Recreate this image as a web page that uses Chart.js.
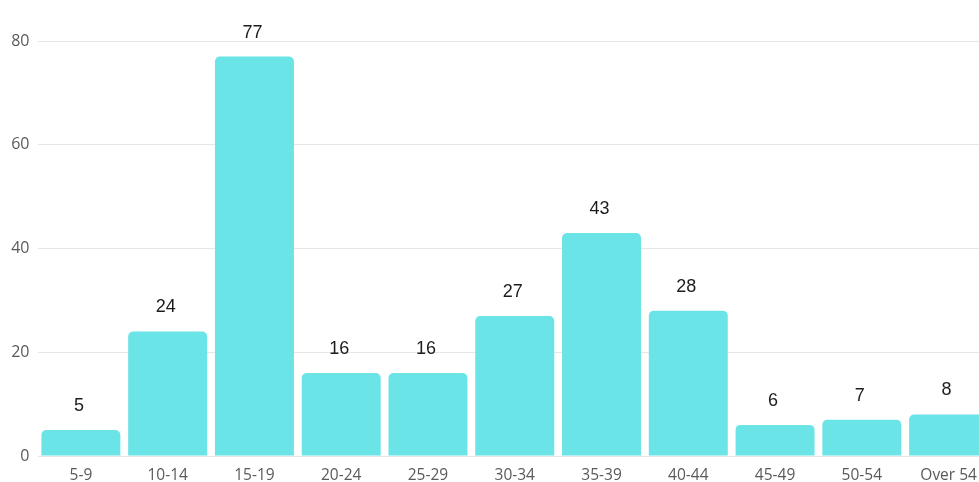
<!DOCTYPE html>
<html>
<head>
<meta charset="utf-8">
<script src="https://cdn.jsdelivr.net/npm/chart.js@4.4.1/dist/chart.umd.min.js"></script>
<style>
    html, body { margin: 0; padding: 0; background: #fff; overflow: hidden; }
    #wrap { width: 992px; height: 482px; }
</style>
</head>
<body>
<div id="wrap"><canvas id="ageChart" width="992" height="482"></canvas></div>
<script>
const ageGroups = ['5-9', '10-14', '15-19', '20-24', '25-29', '30-34', '35-39', '40-44', '45-49', '50-54', 'Over 54'];
const counts = [5, 24, 77, 16, 16, 27, 43, 28, 6, 7, 8];
const yTicks = [0, 20, 40, 60, 80];

// draws the number above each bar
const valueLabels = {
    id: 'valueLabels',
    afterDatasetsDraw(chart) {
        const ctx = chart.ctx;
        const meta = chart.getDatasetMeta(0);
        ctx.save();
        ctx.font = '18px "Liberation Sans", Arial, sans-serif';
        ctx.fillStyle = '#1c1c1c';
        ctx.textAlign = 'center';
        ctx.textBaseline = 'middle';
        meta.data.forEach((bar, i) => {
            ctx.fillText(String(counts[i]), bar.x - 2, bar.y - 24);
        });
        ctx.restore();
    }
};

Chart.defaults.font.family = '"Open Sans", sans-serif';

const ctx = document.getElementById('ageChart').getContext('2d');
new Chart(ctx, {
    type: 'bar',
    data: {
        labels: ageGroups,
        datasets: [{
            data: counts,
            backgroundColor: '#6ae4e6',
            borderRadius: { topLeft: 5, topRight: 5, bottomLeft: 0, bottomRight: 0 },
            borderSkipped: 'bottom',
            barPercentage: 0.91,
            categoryPercentage: 1.0
        }]
    },
    options: {
        responsive: false,
        animation: false,
        layout: { padding: { top: 41, right: 0, left: 0, bottom: 0 } },
        plugins: {
            legend: { display: false },
            tooltip: { enabled: false }
        },
        scales: {
            x: {
                grid: { display: false },
                border: { display: false },
                ticks: { color: '#5a5a5a', font: { size: 15.5 }, padding: 2, maxRotation: 0, autoSkip: false },
                afterFit: (scale) => { scale.height = 26; }
            },
            y: {
                min: 0,
                max: 80,
                afterBuildTicks: (scale) => { scale.ticks = yTicks.map(v => ({ value: v })); },
                grid: { color: '#e6e6e6', lineWidth: 1, drawTicks: false },
                border: { display: false },
                ticks: { color: '#5a5a5a', font: { size: 16 }, padding: 8 },
                afterFit: (scale) => { scale.width = 37.5; }
            }
        }
    },
    plugins: [valueLabels]
});
</script>
</body>
</html>
